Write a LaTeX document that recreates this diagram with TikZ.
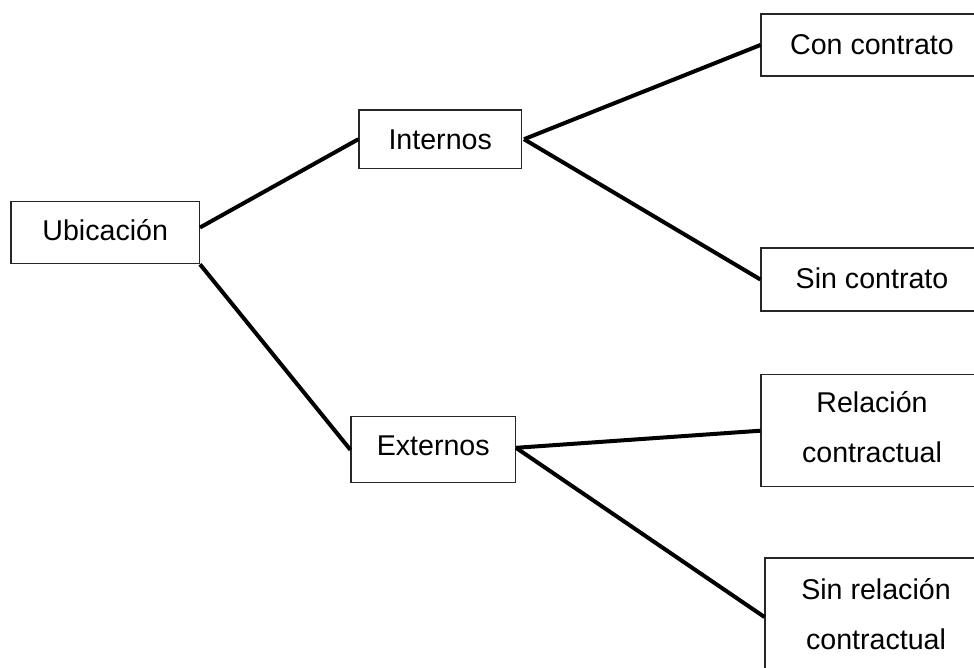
\documentclass[tikz,border=0pt]{standalone}
\usepackage{fontspec}
\setmainfont{Liberation Sans}
\newcommand{\tailgap}{\rule[-7pt]{0pt}{7pt}}
\tikzset{
  box/.style={draw=black!85,line width=1.1pt,inner sep=0pt,align=center,
    font=\fontsize{28.6}{50}\selectfont},
  base/.style={text depth=0pt,text height=#1},
  link/.style={draw=black,line width=4pt}
}
\begin{document}
\begin{tikzpicture}[x=1pt,y=-1pt]
\useasboundingbox (0,0) rectangle (974,667);
\clip (0,0) rectangle (974,667);
\node[box,base=15pt,minimum width=188.5pt,minimum height=62.5pt] (ubi) at (105.2,232.5) {Ubicación};
\node[box,base=20.5pt,minimum width=162.5pt,minimum height=58.5pt] (int) at (440.2,139.2) {Internos};
\node[box,base=11.5pt,minimum width=164.5pt,minimum height=66pt] (ext) at (433.2,449.8) {Externos};
\node[box,base=18pt,minimum width=222pt,minimum height=62pt] (con) at (872,45) {Con contrato};
\node[box,base=17.5pt,minimum width=222pt,minimum height=63pt] (sin) at (872,279.5) {Sin contrato};
\node[box,minimum width=222pt,minimum height=112pt] (rel) at (872,430.7) {Relación\\contractual\tailgap};
\node[box,minimum width=222pt,minimum height=118pt] (srel) at (876,617) {Sin relación\\contractual\tailgap};
\draw[link] ([yshift=5pt]ubi.east) -- (int.west);
\draw[link] (ubi.south east) -- (ext.west);
\draw[link] ([xshift=2pt]int.east) -- (con.west);
\draw[link] ([xshift=2pt]int.east) -- (sin.west);
\draw[link] ([yshift=2pt]ext.east) -- (rel.west);
\draw[link] ([yshift=2pt]ext.east) -- (srel.west);
\end{tikzpicture}
\end{document}
